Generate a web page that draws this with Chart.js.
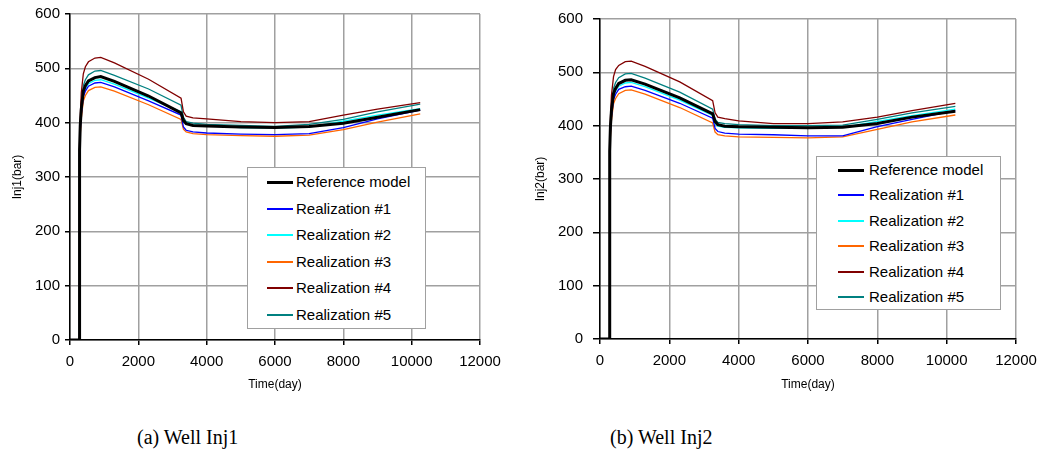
<!DOCTYPE html>
<html>
<head>
<meta charset="utf-8">
<script src="https://cdn.jsdelivr.net/npm/chart.js@4.4.1/dist/chart.umd.min.js"></script>
<style>
  html, body { margin: 0; padding: 0; background: #ffffff; }
  body { width: 1047px; height: 455px; position: relative; overflow: hidden;
         font-family: "Liberation Sans", Arial, sans-serif; }
  .panel { position: absolute; top: 0; height: 400px; }
  .legend { position: absolute; background: #ffffff; border: 1px solid #a0a0a0; box-sizing: border-box; }
  .legend .row { position: absolute; left: 0; right: 0; height: 18px; }
  .legend .swatch { position: absolute; }
  .legend .label { position: absolute; top: 0; line-height: 18px; font-size: 15px; color: #000; white-space: nowrap; }
  .caption { position: absolute; font-family: "Liberation Serif", "Times New Roman", serif;
             font-size: 20px; line-height: 22px; color: #000; white-space: nowrap; }
</style>
</head>
<body>

<div class="panel" style="left:0px;width:520px;"><canvas id="inj1" width="520" height="400"></canvas></div>
<div class="panel" style="left:523px;width:524px;"><canvas id="inj2" width="524" height="400"></canvas></div>

<div class="legend" id="legend1" style="left:247px;top:167px;width:179px;height:162px;"></div>
<div class="legend" id="legend2" style="left:816px;top:156px;width:185px;height:154px;"></div>

<div class="caption" style="left:137px;top:426px;">(a) Well Inj1</div>
<div class="caption" style="left:610px;top:426px;">(b) Well Inj2</div>

<script>
// Simulation time (days) shared by every curve
const days = [0, 275, 280, 300, 330, 390, 450, 540, 730, 900, 1300, 2300, 3250, 3320, 3400, 3600, 4000, 5000, 6000, 7000, 8000, 9000, 10250];

// Series names, colours and line widths
const seriesNames  = ['Reference model', 'Realization #1', 'Realization #2', 'Realization #3', 'Realization #4', 'Realization #5'];
const seriesColors = ['#000000', '#0000ff', '#00ffff', '#ff6600', '#800000', '#008080'];
const seriesWidths = [3, 1.3, 1.3, 1.3, 1.3, 1.3];

// Injector Inj1 bottom-hole pressure (bar)
const inj1Ref = [0, 0, 350, 395, 425, 458, 468, 477, 483, 485, 476, 449, 418, 404, 398, 395, 394, 392, 391, 393, 399, 410, 424];
const inj1R1  = [0, 0, 340, 385, 415, 448, 458, 467, 473, 474, 466, 440, 414, 392, 386, 383, 381, 379, 378, 380, 391, 407, 423];
const inj1R2  = [0, 0, 345, 390, 420, 453, 463, 472, 478, 479, 471, 445, 420, 402, 398, 396, 394, 391, 390, 392, 403, 414, 426];
const inj1R3  = [0, 0, 335, 378, 408, 440, 450, 459, 465, 466, 458, 433, 406, 388, 383, 380, 378, 376, 375, 377, 387, 401, 416];
const inj1R4  = [0, 0, 360, 410, 455, 490, 503, 512, 519, 520, 510, 480, 445, 420, 412, 409, 407, 402, 400, 402, 414, 425, 437];
const inj1R5  = [0, 0, 350, 400, 435, 468, 479, 488, 495, 496, 487, 462, 432, 410, 402, 399, 397, 395, 393, 397, 406, 420, 434];

// Injector Inj2 bottom-hole pressure (bar)
const inj2Ref = [0, 0, 352, 397, 428, 460, 470, 479, 485, 486, 478, 452, 422, 408, 402, 399, 398, 397, 396, 397, 404, 416, 427];
const inj2R1  = [0, 0, 343, 387, 417, 449, 459, 468, 473, 474, 466, 442, 414, 395, 389, 386, 384, 383, 381, 381, 398, 412, 428];
const inj2R2  = [0, 0, 347, 392, 422, 455, 465, 474, 480, 481, 473, 448, 419, 404, 399, 397, 396, 395, 395, 397, 408, 419, 431];
const inj2R3  = [0, 0, 337, 380, 410, 441, 451, 460, 466, 467, 459, 434, 405, 388, 383, 381, 379, 378, 377, 379, 393, 407, 420];
const inj2R4  = [0, 0, 362, 412, 457, 492, 505, 513, 520, 521, 511, 482, 447, 424, 416, 413, 409, 404, 404, 407, 416, 428, 442];
const inj2R5  = [0, 0, 352, 402, 437, 470, 481, 490, 497, 498, 489, 463, 431, 412, 406, 404, 402, 400, 400, 401, 412, 424, 436];

// Axis ticks
const xTicks = [0, 2000, 4000, 6000, 8000, 10000, 12000];
const yTicks = [0, 100, 200, 300, 400, 500, 600];

const tickFont  = { family: '"Liberation Sans", Arial, sans-serif', size: 15 };
const titleFont = { family: '"Liberation Sans", Arial, sans-serif', size: 12 };

function buildDatasets(seriesList) {
  return seriesList.map((vals, i) => ({
    label: seriesNames[i],
    data: days.map((d, k) => ({ x: d, y: vals[k] })),
    borderColor: seriesColors[i],
    backgroundColor: seriesColors[i],
    borderWidth: seriesWidths[i],
    pointRadius: 0,
    fill: false,
    tension: 0
  }));
}

function makeChart(id, seriesList, yTitle, lay) {
  const ctx = document.getElementById(id);
  return new Chart(ctx, {
    type: 'line',
    data: { datasets: buildDatasets(seriesList) },
    options: {
      responsive: false,
      animation: false,
      devicePixelRatio: 1,
      layout: { padding: { left: 0, top: lay.padTop, right: lay.padRight, bottom: 0 } },
      plugins: { legend: { display: false }, tooltip: { enabled: false } },
      scales: {
        x: {
          type: 'linear',
          min: xTicks[0], max: xTicks[xTicks.length - 1],
          afterBuildTicks: (s) => { s.ticks = xTicks.map(v => ({ value: v })); },
          afterFit: (s) => { s.height = lay.xH; },
          ticks: { font: tickFont, color: '#000', padding: 8, maxRotation: 0, autoSkip: false,
                   callback: (v) => String(v) },
          grid: { color: '#a0a0a0', lineWidth: 1.5, tickColor: '#000', tickLength: 5, drawTicks: true },
          border: { color: '#000', width: 1.5 },
          title: { display: true, text: 'Time(day)', font: titleFont, color: '#000', padding: { top: 0, bottom: 8 } }
        },
        y: {
          min: yTicks[0], max: yTicks[yTicks.length - 1],
          afterBuildTicks: (s) => { s.ticks = yTicks.map(v => ({ value: v })); },
          afterFit: (s) => { s.width = lay.yW; },
          ticks: { font: tickFont, color: '#000', padding: lay.yTickPad, callback: (v) => String(v) },
          grid: { color: '#a0a0a0', lineWidth: 1.5, tickColor: '#000', tickLength: lay.yTickLen, drawTicks: true },
          border: { color: '#000', width: 1.5 },
          title: { display: true, text: yTitle, font: titleFont, color: '#000', padding: { top: 10, bottom: 0 } }
        }
      }
    }
  });
}

function buildLegend(id, firstRow, rowStep, swLeft, swWidth, textLeft) {
  const box = document.getElementById(id);
  seriesNames.forEach((name, i) => {
    const row = document.createElement('div');
    row.className = 'row';
    row.style.top = Math.round(firstRow + i * rowStep - 9) + 'px';
    const h = i === 0 ? 3 : 2;
    const sw = document.createElement('div');
    sw.className = 'swatch';
    sw.style.left = swLeft + 'px';
    sw.style.width = swWidth + 'px';
    sw.style.height = h + 'px';
    sw.style.top = (9 - Math.floor(h / 2)) + 'px';
    sw.style.background = seriesColors[i];
    const lb = document.createElement('div');
    lb.className = 'label';
    lb.style.left = textLeft + 'px';
    lb.textContent = name;
    row.appendChild(sw);
    row.appendChild(lb);
    box.appendChild(row);
  });
}

makeChart('inj1', [inj1Ref, inj1R1, inj1R2, inj1R3, inj1R4, inj1R5], 'Inj1(bar)',
  { padTop: 14, padRight: 40, yW: 70, xH: 60, yTickLen: 5, yTickPad: 5 });
makeChart('inj2', [inj2Ref, inj2R1, inj2R2, inj2R3, inj2R4, inj2R5], 'Inj2(bar)',
  { padTop: 9, padRight: 31, yW: 77, xH: 61, yTickLen: 7, yTickPad: 10 });

buildLegend('legend1', 14, 26.5, 19, 26, 48);
buildLegend('legend2', 13, 25.4, 21, 26, 52);
</script>
</body>
</html>
